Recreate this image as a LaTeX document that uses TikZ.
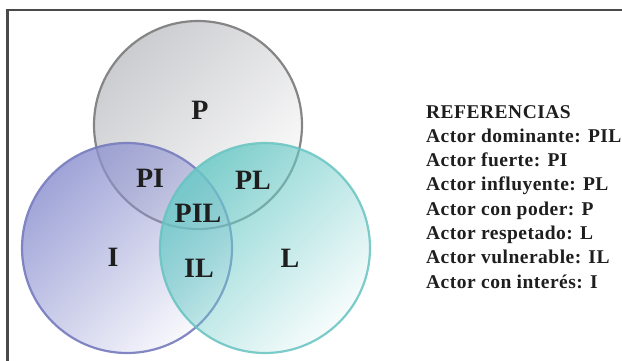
\documentclass[tikz,border=0pt]{standalone}
\usepackage{fontspec}
\setmainfont{Liberation Serif}
\usetikzlibrary{fadings}
\definecolor{framec}{HTML}{4A4A4A}
\definecolor{txt}{HTML}{1E1E1E}
\definecolor{pline}{HTML}{858585}
\definecolor{pfill}{HTML}{C2C3C7}
\definecolor{iline}{HTML}{767BBE}
\definecolor{ifill}{HTML}{8E93D0}
\definecolor{lline}{HTML}{66C3C0}
\definecolor{lfill}{HTML}{6ACAC7}
\tikzfading[name=vennfade, top color=transparent!15, bottom color=transparent!95]
\begin{document}
\begin{tikzpicture}[x=1pt,y=-1pt,
  lbl/.style={font=\fontsize{28}{28}\selectfont\bfseries, text=txt, inner sep=0pt},
  ref/.style={font=\fontsize{19.5}{24}\selectfont\bfseries\addfontfeatures{LetterSpace=2.5}, text=txt, inner sep=0pt, anchor=base west},
  venn/.style={line width=2.2pt}]
\useasboundingbox (0,0) rectangle (622,361);
\draw[line width=2.5pt, framec] (7.5,361) -- (7.5,10) -- (622,10);
\fill[pfill, path fading=vennfade, fading angle=45] (198,125) circle (104);
\draw[venn, pline] (198,125) circle (104);
\fill[ifill, path fading=vennfade, fading angle=45] (127,248) circle (105);
\draw[venn, iline, draw opacity=.9] (127,248) circle (105);
\fill[lfill, path fading=vennfade, fading angle=45] (265,248) circle (105);
\draw[venn, lline, draw opacity=.85] (265,248) circle (105);
\node[lbl] (p) at (200,110) {P};
\node[lbl] (pi) at (150,178) {PI};
\node[lbl] (pl) at (253,180) {PL};
\node[lbl] (pil) at (198,213) {PIL};
\node[lbl] (i) at (113,257) {I};
\node[lbl] (il) at (199,268) {IL};
\node[lbl] (l) at (290,258) {L};
\node[ref] (r0) at (426,118) {REFERENCIAS};
\node[ref] (r1) at (426,142.3) {Actor dominante: PIL};
\node[ref] (r2) at (426,166.6) {Actor fuerte: PI};
\node[ref] (r3) at (426,190.9) {Actor influyente: PL};
\node[ref] (r4) at (426,215.2) {Actor con poder: P};
\node[ref] (r5) at (426,239.5) {Actor respetado: L};
\node[ref] (r6) at (426,263.8) {Actor vulnerable: IL};
\node[ref] (r7) at (426,288.1) {Actor con interés: I};
\end{tikzpicture}
\end{document}
